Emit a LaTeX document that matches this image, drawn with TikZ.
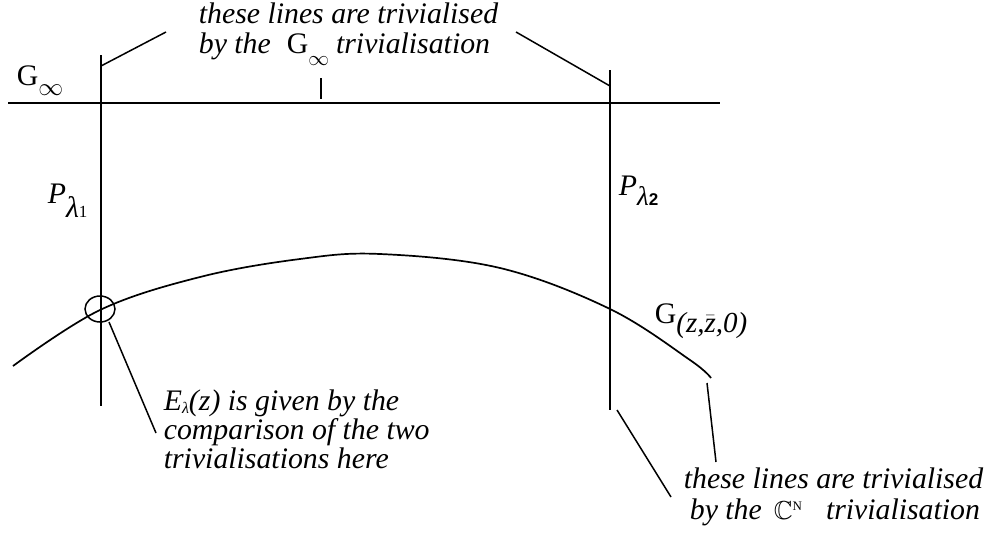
\documentclass[tikz,border=0pt]{standalone}
\usepackage{fontspec}
\usepackage{amssymb}
\usetikzlibrary{shapes.geometric}
\setmainfont{Liberation Serif}
\newfontfamily\sanslab{Liberation Sans}
\newcommand\txtsize{\fontsize{29.8}{30}\selectfont}
\newcommand\szof[1]{\fontsize{#1}{#1}\selectfont}
\begin{document}
\begin{tikzpicture}[x=1pt,y=-1pt,line width=1.7pt,
  lbl/.style={anchor=base west,inner sep=0pt,font=\txtsize\itshape},
  leader/.style={line width=1.5pt}]
\useasboundingbox (0,0) rectangle (992,538);
% main lines
\coordinate (hl) at (8,103);   \coordinate (hr) at (720,103);
\coordinate (v1t) at (101,55); \coordinate (v1b) at (101,406);
\coordinate (v2t) at (610,70); \coordinate (v2b) at (610,410);
\coordinate (tk1) at (321,78); \coordinate (tk2) at (321,99);
\draw (hl) -- (hr);
\draw (v1t) -- (v1b);
\draw (v2t) -- (v2b);
\draw (tk1) -- (tk2);
% curve G(z,zbar,0)
\draw plot[smooth,tension=0.6] coordinates {(13,366) (100,310) (200,277) (300,259) (380,254) (500,268) (610,309) (690,360) (711,378)};
% circle
\node (circ) [draw,line width=1.5pt,ellipse,minimum width=30pt,minimum height=26pt,inner sep=0pt] at (100,309) {};
% top text
\node (ta) [lbl] at (198,23) {these lines are trivialised};
\node (tb) [lbl] at (198,53) {by the\hspace{16pt}{\upshape G}\raisebox{-12pt}{\szof{22}$\infty$}\hspace{7pt}trivialisation};
\coordinate (l1a) at (101,66);  \coordinate (l1b) at (166,32);
\coordinate (l2a) at (516,32);  \coordinate (l2b) at (610,86);
\draw[leader] (l1a) -- (l1b);
\draw[leader] (l2a) -- (l2b);
% labels
\node (ginf) [lbl] at (16,85) {{\upshape G}\raisebox{-10pt}{\szof{23}$\infty$}};
\node (p1) [lbl] at (47,203) {P\raisebox{-14pt}{λ\upshape\szof{17}1}};
\node (p2) [lbl] at (618,195) {P\raisebox{-10pt}{\szof{27}λ\sanslab\bfseries\upshape\szof{17}2}};
\node (gz) [lbl] at (654,323) {{\upshape G}\raisebox{-9pt}{\szof{29}(z,$\bar{\hbox{z}}$,0)}};
% bottom-left text
\node (ea) [lbl] at (163,410) {E\raisebox{-3pt}{\szof{16}λ}(z) is given by the};
\node (eb) [lbl] at (163,439) {comparison of the two};
\node (ec) [lbl] at (163,468) {trivialisations here};
\coordinate (l3a) at (109,322); \coordinate (l3b) at (156,433);
\draw[leader] (l3a) -- (l3b);
% bottom-right text
\node (ba) [lbl] at (683,488) {these lines are trivialised};
\node (bb) [lbl] at (689,519) {by the\hspace{12pt}{\upshape\szof{26}$\mathbb{C}$}\raisebox{9pt}{\upshape\szof{13}N}\hspace{24pt}trivialisation};
\coordinate (l4a) at (617,410); \coordinate (l4b) at (671,497);
\coordinate (l5a) at (707,383); \coordinate (l5b) at (716,462);
\draw[leader] (l4a) -- (l4b);
\draw[leader] (l5a) -- (l5b);
\end{tikzpicture}
\end{document}
